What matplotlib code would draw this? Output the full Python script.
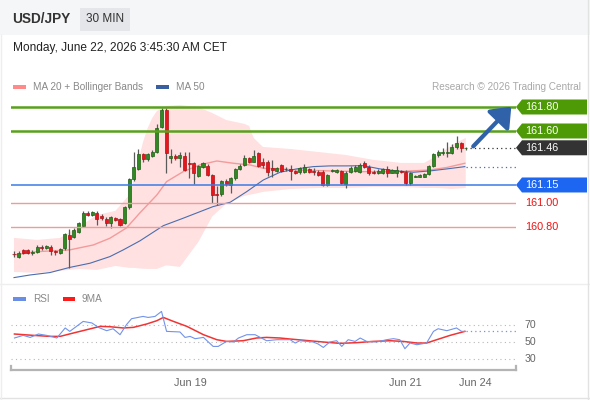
import matplotlib
matplotlib.use("Agg")
import matplotlib.pyplot as plt
from matplotlib.patches import Rectangle, Polygon, FancyArrowPatch

plt.rcParams['font.family'] = ['Liberation Sans', 'DejaVu Sans']

# ---------------------------------------------------------------- data
opens = [160.575, 160.553, 160.609, 160.609, 160.581, 160.594, 160.636, 160.623, 160.636, 160.596,
         160.586, 160.623, 160.734, 160.720, 160.761, 160.809, 160.920, 160.903, 160.920, 160.892,
         160.865, 160.831, 160.873, 160.865, 160.831, 160.967, 161.200, 161.284, 161.406, 161.367,
         161.395, 161.425, 161.634, 161.775, 161.378, 161.392, 161.378, 161.392, 161.334, 161.331,
         161.228, 161.303, 161.309, 161.234, 161.075, 161.073, 161.184, 161.150, 161.206, 161.284,
         161.317, 161.371, 161.345, 161.415, 161.340, 161.340, 161.290, 161.267, 161.317, 161.285,
         161.284, 161.267, 161.256, 161.261, 161.281, 161.263, 161.261, 161.261, 161.150, 161.263,
         161.256, 161.267, 161.159, 161.256, 161.267, 161.261, 161.331, 161.303, 161.261, 161.253,
         161.253, 161.281, 161.253, 161.253, 161.263, 161.261, 161.165, 161.220, 161.220, 161.220,
         161.242, 161.309, 161.400, 161.415, 161.415, 161.420, 161.465, 161.498, 161.455]
closes = [160.571, 160.586, 160.581, 160.581, 160.594, 160.636, 160.623, 160.642, 160.603, 160.593,
          160.617, 160.740, 160.698, 160.775, 160.831, 160.920, 160.900, 160.925, 160.865, 160.873,
          160.831, 160.881, 160.859, 160.817, 160.965, 161.200, 161.300, 161.406, 161.367, 161.406,
          161.428, 161.628, 161.775, 161.417, 161.392, 161.373, 161.398, 161.275, 161.329, 161.248,
          161.309, 161.331, 161.234, 161.067, 161.067, 161.184, 161.156, 161.206, 161.284, 161.311,
          161.378, 161.345, 161.395, 161.311, 161.317, 161.261, 161.275, 161.290, 161.267, 161.280,
          161.267, 161.248, 161.290, 161.298, 161.256, 161.259, 161.234, 161.150, 161.234, 161.271,
          161.275, 161.165, 161.253, 161.295, 161.303, 161.317, 161.303, 161.248, 161.253, 161.267,
          161.281, 161.253, 161.275, 161.275, 161.259, 161.165, 161.248, 161.228, 161.234, 161.242,
          161.309, 161.409, 161.428, 161.428, 161.420, 161.470, 161.498, 161.456, 161.460]
highs = [160.603, 160.600, 160.617, 160.617, 160.609, 160.646, 160.646, 160.650, 160.646, 160.609,
         160.625, 160.750, 160.781, 160.792, 160.842, 160.934, 160.930, 160.934, 160.930, 160.909,
         160.884, 160.892, 160.884, 160.875, 160.975, 161.209, 161.425, 161.450, 161.417, 161.417,
         161.442, 161.659, 161.790, 161.790, 161.450, 161.409, 161.425, 161.425, 161.425, 161.342,
         161.317, 161.342, 161.325, 161.242, 161.145, 161.192, 161.200, 161.217, 161.292, 161.325,
         161.400, 161.386, 161.442, 161.425, 161.373, 161.359, 161.359, 161.300, 161.325, 161.300,
         161.317, 161.275, 161.300, 161.323, 161.292, 161.290, 161.271, 161.271, 161.242, 161.284,
         161.284, 161.275, 161.267, 161.305, 161.313, 161.334, 161.350, 161.317, 161.271, 161.280,
         161.292, 161.309, 161.284, 161.309, 161.275, 161.275, 161.259, 161.234, 161.242, 161.250,
         161.317, 161.417, 161.442, 161.456, 161.511, 161.492, 161.559, 161.509, 161.465]
lows = [160.553, 160.542, 160.575, 160.571, 160.567, 160.584, 160.609, 160.613, 160.567, 160.567,
        160.575, 160.609, 160.461, 160.709, 160.750, 160.800, 160.892, 160.892, 160.817, 160.859,
        160.809, 160.790, 160.846, 160.809, 160.821, 160.950, 161.184, 161.275, 161.342, 161.350,
        161.384, 161.417, 161.621, 161.250, 161.334, 161.359, 161.303, 161.267, 161.209, 161.156,
        161.217, 161.292, 161.225, 160.998, 160.984, 161.059, 161.142, 161.084, 161.192, 161.275,
        161.309, 161.334, 161.342, 161.300, 161.290, 161.228, 161.220, 161.259, 161.259, 161.263,
        161.192, 161.238, 161.242, 161.250, 161.246, 161.234, 161.225, 161.142, 161.138, 161.255,
        161.246, 161.159, 161.123, 161.246, 161.259, 161.250, 161.292, 161.234, 161.242, 161.242,
        161.242, 161.220, 161.246, 161.220, 161.250, 161.150, 161.150, 161.213, 161.213, 161.213,
        161.234, 161.300, 161.384, 161.400, 161.386, 161.409, 161.450, 161.425, 161.445]

# moving averages / bands, read at sample candle positions
ma20_x = [0, 4.9, 12.1, 17.2, 20.8, 24.4, 27.3, 31.0, 33.1, 36.7, 40.3, 44.0, 47.6, 51.2,
          54.1, 57.7, 61.3, 68.5, 75.8, 83.0, 90.2, 93.9, 97.8]
ma20_v = [160.567, 160.594, 160.609, 160.650, 160.706, 160.792, 160.917, 161.067, 161.178,
          161.261, 161.317, 161.350, 161.331, 161.317, 161.289, 161.284, 161.275, 161.267,
          161.261, 161.261, 161.275, 161.296, 161.331]
ma50_x = [0, 3.5, 7.8, 12.1, 16.5, 20.8, 23.7, 27.3, 32.4, 36.7, 43.2, 46.9, 50.5, 54.1,
          57.7, 61.3, 64.9, 68.5, 72.2, 75.8, 79.4, 83.0, 86.6, 90.2, 93.9, 97.8]
ma50_v = [160.378, 160.400, 160.420, 160.463, 160.498, 160.553, 160.609, 160.684, 160.811,
          160.873, 160.970, 161.006, 161.095, 161.192, 161.256, 161.284, 161.303, 161.309,
          161.309, 161.311, 161.284, 161.267, 161.256, 161.267, 161.284, 161.303]
bb_up_x = [0, 5, 10, 14, 18, 22, 25, 26, 27, 28, 29, 30, 31, 33, 36, 40, 43, 46, 50, 51,
           52, 54, 60, 66, 72, 78, 84, 89, 92, 95, 98]
bb_up_v = [160.709, 160.692, 160.709, 160.800, 160.900, 160.934, 161.067, 161.192, 161.359,
           161.509, 161.625, 161.709, 161.767, 161.809, 161.817, 161.800, 161.750, 161.692,
           161.659, 161.642, 161.542, 161.467, 161.450, 161.425, 161.400, 161.359, 161.334,
           161.334, 161.400, 161.484, 161.542]
bb_lo_v = [160.425, 160.417, 160.434, 160.450, 160.442, 160.475, 160.459, 160.459, 160.455,
           160.452, 160.450, 160.450, 160.450, 160.480, 160.467, 160.675, 160.887, 160.992,
           161.059, 161.067, 161.075, 161.092, 161.117, 161.125, 161.125, 161.134, 161.134,
           161.125, 161.125, 161.117, 161.125]

levels_green = [161.80, 161.60]
last_price = 161.46
level_blue = 161.15
levels_red = [161.00, 160.80]

rsi_x = [0.1, 2.0, 3.5, 5.3, 7.1, 9.3, 11.1, 12.1, 15.0, 16.9, 18.3, 20.1, 21.5, 23.0, 24.4,
         25.5, 28.0, 29.1, 30.6, 32.0, 33.1, 36.0, 37.1, 38.2, 39.3, 41.1, 43.2, 44.3, 46.1,
         47.6, 48.7, 50.5, 52.3, 54.8, 57.0, 59.9, 61.0, 62.0, 63.5, 64.9, 66.0, 67.1, 68.5,
         70.0, 71.1, 72.5, 74.0, 75.1, 76.5, 78.7, 80.8, 82.3, 83.7, 84.8, 85.9, 87.4, 89.5,
         91.0, 92.0, 93.9, 96.0, 97.1, 97.8]
rsi_v = [54.7, 57.8, 55.4, 59.4, 57.8, 54.7, 66.5, 62.5, 74.2, 72.4, 67.2, 63.3, 65.6, 58.6,
         70.4, 77.4, 80.1, 78.9, 80.1, 86.0, 62.5, 61.8, 55.4, 56.6, 53.9, 55.4, 44.8, 44.8,
         50.7, 50.0, 54.7, 58.6, 58.6, 51.5, 52.7, 52.7, 48.8, 51.5, 50.7, 50.0, 47.6, 43.6,
         50.0, 51.5, 44.8, 52.7, 50.7, 54.7, 50.7, 50.0, 52.7, 53.9, 52.7, 42.1, 48.8, 46.8,
         48.8, 62.5, 65.6, 63.3, 66.5, 62.5, 62.5]
ma9_x = [0.1, 4.2, 7.8, 10.0, 12.9, 15.8, 18.7, 20.8, 23.7, 25.9, 28.8, 31.0, 32.4, 34.6,
         37.5, 41.1, 44.0, 46.1, 49.7, 52.6, 54.8, 57.7, 59.9, 67.1, 70.7, 74.3, 77.9, 81.6,
         84.4, 87.4, 89.5, 91.7, 94.6, 97.8]
ma9_v = [59.4, 57.8, 56.6, 56.6, 60.6, 64.5, 68.4, 68.0, 66.5, 67.2, 71.2, 75.1, 78.9, 74.2,
         68.4, 58.6, 52.7, 50.7, 51.5, 54.7, 55.4, 54.7, 53.5, 50.0, 48.4, 49.2, 50.7, 51.5,
         50.7, 48.8, 48.8, 52.7, 57.8, 62.5]
rsi_levels = [70, 50, 30]

date_pos = [38.2, 85.0, 100.0]
date_labels = ['Jun 19', 'Jun 21', 'Jun 24']

# ---------------------------------------------------------------- figure
W, H = 590, 400
fig = plt.figure(figsize=(W / 100, H / 100), dpi=100)
fig.patch.set_facecolor('white')

x0, x1 = -0.65, 108.9  # candle index range across the plotting width


def px_axes(left, top, right, bottom):
    return fig.add_axes([left / W, 1 - bottom / H, (right - left) / W, (bottom - top) / H])


# overlay in pixel coordinates for page furniture
ov = fig.add_axes([0, 0, 1, 1], zorder=0)
ov.set_xlim(0, W)
ov.set_ylim(H, 0)
ov.axis('off')
ov.add_patch(Rectangle((0, 0), W, 35, facecolor='#f5f6f7', edgecolor='none'))
ov.plot([0, W], [284, 284], color='#eeeeee', lw=1)
ov.plot([588, 588], [0, H], color='#e2e2e2', lw=1)
ov.plot([0, W], [397.5, 397.5], color='#e2e2e2', lw=1)
ov.plot([0.5, 0.5], [35, H], color='#eeeeee', lw=1)

ov.text(12, 19, 'USD/JPY', fontsize=9.8, fontweight='bold', color='#333333', va='center')
ov.add_patch(Rectangle((80, 8), 50, 23, facecolor='#e4e6e9', edgecolor='none'))
ov.text(105, 19.5, '30 MIN', fontsize=8.5, color='#333333', ha='center', va='center')
ov.text(13, 48, 'Monday, June 22, 2026 3:45:30 AM CET', fontsize=8.6, color='#222222',
        va='center')

ov.add_patch(Rectangle((13, 84.5), 13, 4, facecolor='#ff8a8a', edgecolor='none'))
ov.text(33, 86.5, 'MA 20 + Bollinger Bands', fontsize=7.2, color='#888888', va='center')
ov.add_patch(Rectangle((156, 84.5), 12.5, 4, facecolor='#3a5fa0', edgecolor='none'))
ov.text(175.5, 86.5, 'MA 50', fontsize=7.2, color='#888888', va='center')
ov.text(581, 86.5, 'Research \u00a9 2026 Trading Central', fontsize=7.2, color='#a8a8a8',
        ha='right', va='center')

ov.add_patch(Rectangle((13, 297), 13, 4, facecolor='#6a8de6', edgecolor='none'))
ov.text(33, 299, 'RSI', fontsize=7.2, color='#888888', va='center')
ov.add_patch(Rectangle((62.5, 297), 12.5, 4, facecolor='#ff1a1a', edgecolor='none'))
ov.text(81.5, 299, '9MA', fontsize=7.2, color='#888888', va='center')

# ---------------------------------------------------------------- price panel
ax = px_axes(11, 95, 516, 283)
ax.set_zorder(2)
ax.patch.set_alpha(0)
ax.set_xlim(x0, x1)
ax.set_ylim(160.333, 161.900)
ax.axis('off')

ax.fill_between(bb_up_x, bb_lo_v, bb_up_v, facecolor='#ffe1e1', edgecolor='none', zorder=1)
ax.plot(ma20_x, ma20_v, color='#f59a9a', lw=1.0, zorder=2)
ax.plot(ma50_x, ma50_v, color='#4a6db0', lw=0.8, zorder=2)

body_w = 0.66
for i, (o, h, l, c) in enumerate(zip(opens, highs, lows, closes)):
    ax.plot([i, i], [l, h], color='#5a5a5a', lw=0.9, zorder=3, solid_capstyle='butt')
    if c >= o:
        fc, ec = '#2f8a22', '#1f5e16'
    else:
        fc, ec = '#e8161c', '#b00f14'
    hgt = max(abs(c - o), 0.006)
    ax.add_patch(Rectangle((i - body_w / 2, min(o, c)), body_w, hgt, facecolor=fc,
                           edgecolor=ec, lw=0.5, zorder=4))

for lv in levels_green:
    ax.axhline(lv, color='#58a11c', lw=1.8, zorder=5)
ax.axhline(level_blue, color='#3a7ae6', lw=1.1, zorder=5)
for lv in levels_red:
    ax.axhline(lv, color='#f29a9a', lw=1.0, zorder=5)

n = len(closes)
ax.plot([n - 0.1, x1], [last_price, last_price], color='#333333', lw=0.9,
        ls=(0, (1, 2.5)), zorder=5)
ax.plot([ma50_x[-1] + 0.3, x1], [ma50_v[-1], ma50_v[-1]], color='#4a6db0', lw=0.9,
        ls=(0, (1, 2.5)), zorder=5)

ax.add_patch(FancyArrowPatch((n + 0.2, last_price - 0.005), (x1 - 0.6, levels_green[0] + 0.02),
                             arrowstyle='-|>,head_length=5,head_width=4', mutation_scale=2.2,
                             color='#2f62a8', lw=3.0, zorder=6, clip_on=False))


def price_px(p):
    return H - ax.transData.transform((0, p))[1]


tags = [(levels_green[0], '#4e9a06'), (levels_green[1], '#4e9a06'),
        (last_price, '#333333'), (level_blue, '#1d66f2')]
for p, col in tags:
    yc = price_px(p)
    ov.add_patch(Polygon([(516, yc), (522, yc - 7.5), (587, yc - 7.5), (587, yc + 7.5),
                          (522, yc + 7.5)], closed=True, facecolor=col, edgecolor='none'))
    ov.text(525, yc + 0.5, f'{p:.2f}', fontsize=7.8, color='white', va='center')
for p in levels_red:
    ov.text(525, price_px(p) + 0.5, f'{p:.2f}', fontsize=7.8, color='#ee1111', va='center')

# ---------------------------------------------------------------- RSI panel
ar = px_axes(11, 299.5, 516, 370)
ar.set_zorder(2)
ar.patch.set_alpha(0)
ar.set_xlim(x0, x1)
ar.set_ylim(17.06, 100)
for s in ['top', 'right', 'left']:
    ar.spines[s].set_visible(False)
ar.spines['bottom'].set_color('#b4b4b4')
ar.spines['bottom'].set_linewidth(1.6)
ar.set_yticks([])
ar.set_xticks(date_pos)
ar.set_xticklabels(date_labels)
ar.tick_params(axis='x', length=0, pad=5.5, labelsize=7.8, labelcolor='#666666')
ar.plot([0, 0], [0, 0.06], transform=ar.transAxes, color='#b4b4b4', lw=1.6, clip_on=False)
ar.plot([1, 1], [0, 0.06], transform=ar.transAxes, color='#b4b4b4', lw=1.6, clip_on=False)

for lv in rsi_levels:
    ar.axhline(lv, color='#b8b8b8', lw=0.8, ls=(0, (1, 3)))
    ov.text(524.5, H - ar.transData.transform((0, lv))[1], str(lv), fontsize=7.6,
            color='#666666', va='center')

ar.plot(ma9_x, ma9_v, color='#f03434', lw=1.1, zorder=3)
ar.plot(rsi_x, rsi_v, color='#7393ea', lw=0.8, zorder=4)
ar.plot([rsi_x[-1] + 0.3, x1], [rsi_v[-1], rsi_v[-1]], color='#7393ea', lw=0.9,
        ls=(0, (1, 2.5)))

fig.savefig('out.png', dpi=100, facecolor='white')
